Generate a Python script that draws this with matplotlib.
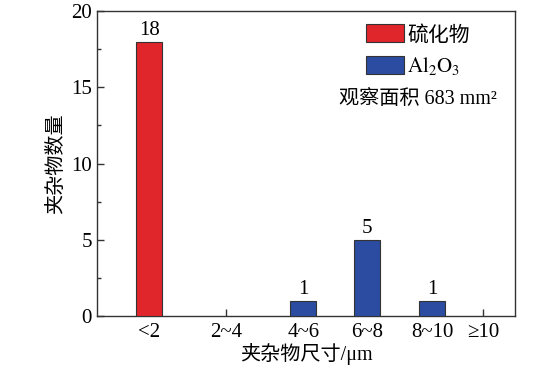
import matplotlib
matplotlib.use('Agg')
import matplotlib.pyplot as plt
from matplotlib.patches import Patch
from matplotlib.ticker import MultipleLocator

plt.rcParams['font.family'] = ['Liberation Serif', 'Noto Sans CJK SC']
plt.rcParams['mathtext.fontset'] = 'stix'

# size classes and counts
size_labels = ['<2', '2~4', '4~6', '6~8', '8~10', '≥10']
sulfide_counts = [18, 0, 0, 0, 0, 0]
al2o3_counts = [0, 0, 1, 5, 1, 0]
# category positions along the axis (the original spacing is uneven)
x_pos = [0.68, 1.68, 2.68, 3.51, 4.35, 5.01]

red = '#e0262b'
blue = '#2b4ca0'
edge = '#333333'
fs = 15

fig = plt.figure(figsize=(5.6, 3.68), dpi=100)
ax = fig.add_axes([0.173, 0.141, 0.747, 0.829])

bar_w = 0.34
for x, s, a in zip(x_pos, sulfide_counts, al2o3_counts):
    if s > 0:
        ax.bar(x, s, width=bar_w, color=red, edgecolor=edge, linewidth=0.8, zorder=3)
        ax.text(x, s + 0.1, str(s), ha='center', va='bottom', fontsize=fs)
    if a > 0:
        ax.bar(x, a, width=bar_w, color=blue, edgecolor=edge, linewidth=0.8, zorder=3)
        ax.text(x, a + 0.1, str(a), ha='center', va='bottom', fontsize=fs)

ax.set_xlim(0, 5.43)
ax.set_ylim(0, 20)
ax.set_xticks(x_pos)
ax.set_xticklabels(size_labels, fontsize=fs)
ax.yaxis.set_major_locator(MultipleLocator(5))
ax.yaxis.set_minor_locator(MultipleLocator(2.5))
ax.tick_params(axis='y', labelsize=fs)
ax.tick_params(direction='in', length=5, width=1, color=edge)
ax.tick_params(which='minor', direction='in', length=3, width=1, color=edge)
ax.tick_params(axis='x', pad=5)

for sp in ax.spines.values():
    sp.set_color(edge)
    sp.set_linewidth(1.0)

ax.set_xlabel('夹杂物尺寸/μm', fontsize=14.5, labelpad=1)
ax.set_ylabel('夹杂物数量', fontsize=14.5, labelpad=4)

handles = [Patch(facecolor=red, edgecolor=edge, linewidth=0.8),
           Patch(facecolor=blue, edgecolor=edge, linewidth=0.8)]
ax.legend(handles, ['硫化物', r'$\mathrm{Al_2O_3}$'], loc='upper left',
          bbox_to_anchor=(0.643, 0.957), frameon=False, fontsize=fs,
          handlelength=1.85, handleheight=0.95, handletextpad=0.12,
          labelspacing=0.45, borderpad=0, borderaxespad=0)

ax.text(0.955, 0.71, '观察面积 683 mm²', transform=ax.transAxes,
        ha='right', va='center', fontsize=14.5)

fig.savefig('out.png', dpi=100)
